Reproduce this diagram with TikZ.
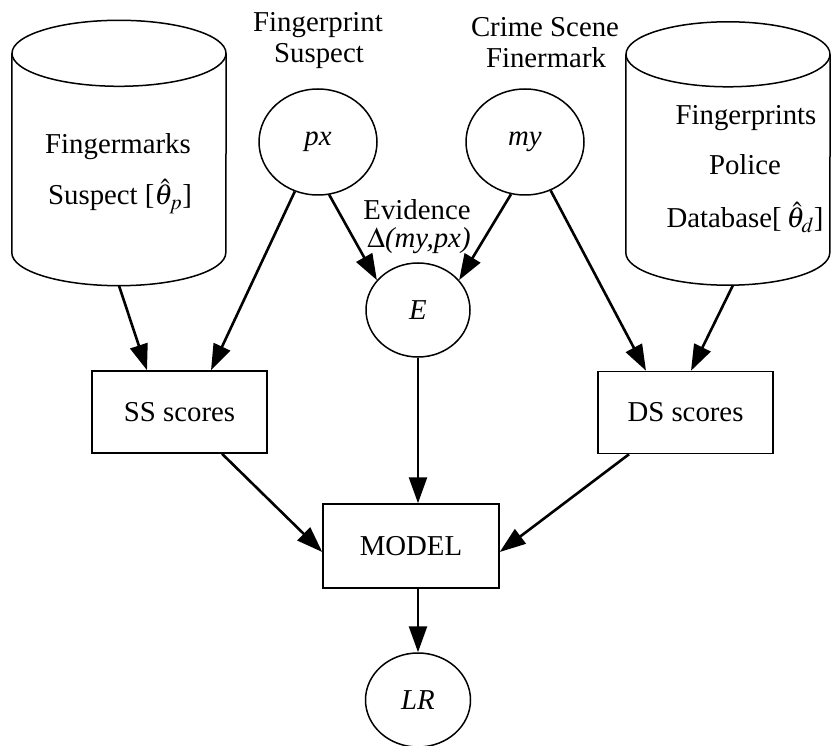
\documentclass[tikz,border=0pt]{standalone}
\usepackage{mathptmx}
\usepackage{fontspec}
\setmainfont{Liberation Serif}
\usetikzlibrary{shapes.geometric,arrows.meta}

\begin{document}
\begin{tikzpicture}[x=1pt,y=-1pt,
	every node/.style={font=\fontsize{28.8}{32}\selectfont},
	var/.style={draw,ellipse,line width=1.5pt,inner sep=0pt,minimum width=118pt,minimum height=106pt},
	scorebox/.style={draw,rectangle,line width=1.5pt,minimum width=175pt,minimum height=82pt},
	dbbox/.style={rectangle,inner sep=0pt},
	dbline/.style={line width=1.5pt},
	txt/.style={anchor=base,inner sep=0pt},
	arr/.style={line width=2.6pt,-{Triangle[length=26pt,width=18pt]}}]
	\useasboundingbox (0,0) rectangle (831,746);

	% databases
	\node[dbbox,minimum width=214pt,minimum height=265pt] (suspDB) at (119,153) {};
	\draw[dbline] ([yshift=-33pt]suspDB.north) ellipse[x radius=107pt,y radius=33pt];
	\draw[dbline] ([yshift=-33pt]suspDB.north west) -- ([yshift=33pt]suspDB.south west)
		arc[start angle=180,end angle=360,x radius=107pt,y radius=33pt]
		-- ([yshift=-33pt]suspDB.north east);
	\node[txt] (suspDBa) at (118,154) {Fingermarks};
	\node[txt] (suspDBb) at (120,205) {Suspect [$\hat{\theta}_p$]};

	\node[dbbox,minimum width=204pt,minimum height=263pt] (policeDB) at (728,153.5) {};
	\draw[dbline] ([yshift=-32.5pt]policeDB.north) ellipse[x radius=102pt,y radius=32.5pt];
	\draw[dbline] ([yshift=-32.5pt]policeDB.north west) -- ([yshift=32.5pt]policeDB.south west)
		arc[start angle=180,end angle=360,x radius=102pt,y radius=32.5pt]
		-- ([yshift=-32.5pt]policeDB.north east);
	\node[txt] (policeDBa) at (746,125) {Fingerprints};
	\node[txt] (policeDBb) at (745,175) {Police};
	\node[txt] (policeDBc) at (745,228) {Database[\,$\hat{\theta}_d$]};

	% variables
	\node[var] (px) at (318,142) {\textit{px}};
	\node[txt] (pxa) at (318,32) {Fingerprint};
	\node[txt] (pxb) at (319,63) {Suspect};
	\node[var] (my) at (525,142) {\textit{my}};
	\node[txt] (mya) at (545,37) {Crime Scene};
	\node[txt] (myb) at (546,68) {Finermark};
	\node[var,minimum width=104pt,minimum height=94pt] (E) at (418,310) {\textit{E}};
	\node[txt] (Ea) at (417,220) {Evidence};
	\node[txt] (Eb) at (419,248) {$\Delta$\textit{(my,px)}};

	% scores and model
	\node[scorebox] (ssBox) at (179.5,412) {SS scores};
	\node[scorebox] (dsBox) at (685.5,412.5) {DS scores};
	\node[scorebox,minimum width=176pt,minimum height=84pt] (model) at (411,546) {MODEL};
	\node[var,minimum width=105pt,minimum height=94pt] (LR) at (418,700) {\textit{LR}};

	\draw[arr] (suspDB.south) -- ([xshift=-32.5pt]ssBox.north);
	\draw[arr] (px) -- ([xshift=31.5pt]ssBox.north);
	\draw[arr] (px.-78) -- (E.144);
	\draw[arr] (my.-105) -- (E.36);
	\draw[arr] (my) -- ([xshift=-39.5pt]dsBox.north);
	\draw[arr] ([xshift=5pt]policeDB.south) -- ([xshift=5.5pt]dsBox.north);
	\draw[arr] (E) -- ([xshift=7pt]model.north);
	\draw[arr] ([xshift=42.5pt]ssBox.south) -- ([yshift=-6pt]model.west);
	\draw[arr] ([xshift=-56.5pt]dsBox.south) -- ([yshift=-6pt]model.east);
	\draw[arr] ([xshift=7pt]model.south) -- (LR);
\end{tikzpicture}
\end{document}
